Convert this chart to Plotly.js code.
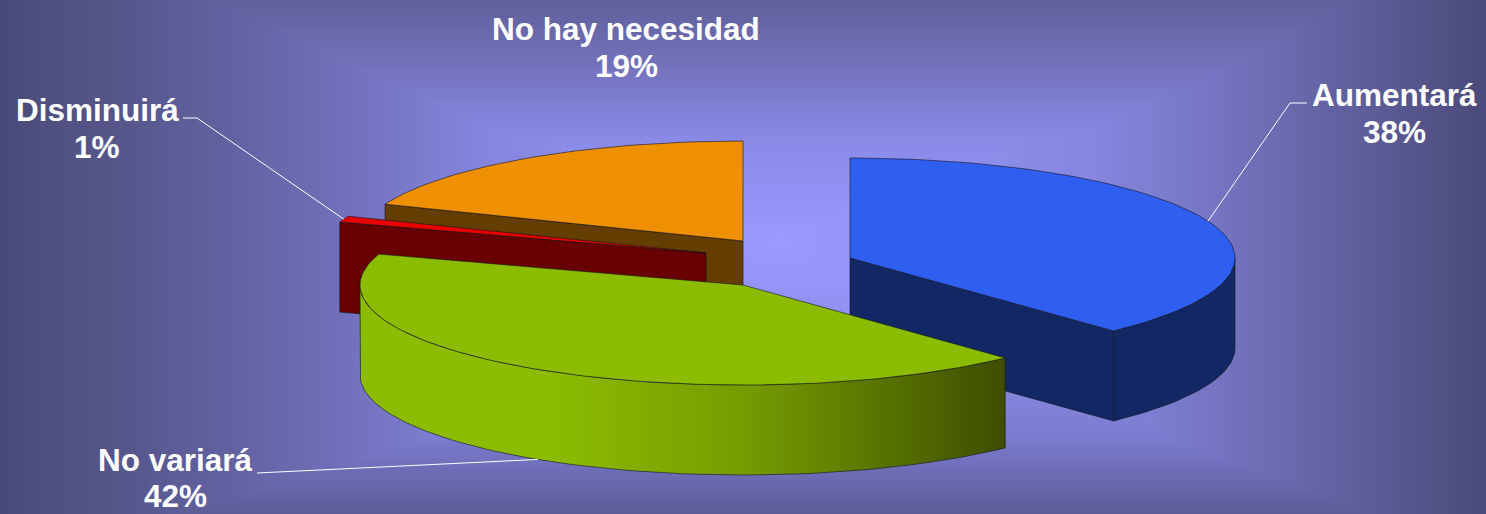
<!DOCTYPE html>
<html>
<head>
<meta charset="utf-8">
<script src="https://cdn.plot.ly/plotly-3.0.1.min.js"></script>
<style>
html,body{margin:0;padding:0;width:1486px;height:514px;overflow:hidden;}
body{
  background-color:#9999ff;
  background-image:
    linear-gradient(to right,#4a4a7a 0px,#545488 100px,#6464a6 250px,#7777c6 390px,#8686e0 490px,#9999ff 780px,#8686e0 1090px,#7777c6 1200px,#6666a8 1310px,#4a4a7a 1486px),
    linear-gradient(to bottom,#60609c 0px,#7070b8 60px,#8a8ae8 140px,#9999ff 240px,#8c8ce8 360px,#7a7ace 440px,#5c5c96 514px);
  background-blend-mode:darken;
}
</style>
</head>
<body>
<div id="chart" style="width:1486px;height:514px;"></div>
<script>
// Data
const categories = ["Aumentará", "No variará", "Disminuirá", "No hay necesidad"];
const shares = [38, 42, 1, 19];

// Styles
const topColors = ["#2e5ff0", "#8cbc00", "#e80000", "#ee9000"];
const faceColors = ["#122864", "#8cbc00", "#680000", "#643e00"];

// Layout of the exploded 3D pie
const RY = 100, DEPTH = 90;
const radiiX = [385, 383, 385, 385];
const centres = [[850, 258], [743, 285], [706, 253], [743, 241]];
const elbows = [[1290, 103, 1307], [257, 473, 257], [197, 118, 183], null];
const nameY = [95, 460, 110, 29];
const pctY = [132, 496, 147, 66];
const labelX = [1394, 175, 97, 626];
const edge = "rgba(20,20,30,0.6)";

const rad = d => d * Math.PI / 180;
function rim(i, t, dz) {
  const c = centres[i];
  return [c[0] + radiiX[i] * Math.sin(rad(t)), c[1] - RY * Math.cos(rad(t)) + (dz || 0)];
}
function arc(i, a, b, dz) {
  const n = Math.max(2, Math.ceil(Math.abs(b - a) / 1.5)), out = [];
  for (let k = 0; k <= n; k++) out.push(rim(i, a + (b - a) * k / n, dz));
  return out;
}
function poly(pts, color, extra) {
  return Object.assign({
    type: "scatter", mode: "lines", fill: "toself", fillcolor: color,
    x: pts.map(p => p[0]), y: pts.map(p => p[1]),
    line: { color: edge, width: 1 }, hoverinfo: "skip", showlegend: false
  }, extra || {});
}

let cum = 0;
const spans = shares.map(s => { const a = cum * 3.6; cum += s; return [a, cum * 3.6]; });

function cutFace(i, t) {
  const c = centres[i], r = rim(i, t);
  return poly([c, r, [r[0], r[1] + DEPTH], [c[0], c[1] + DEPTH], c], faceColors[i]);
}
function topFace(i) {
  const c = centres[i];
  return poly([c].concat(arc(i, spans[i][0], spans[i][1])).concat([c]), topColors[i]);
}
function wall(i, a, b, extra) {
  const pts = arc(i, a, b).concat(arc(i, b, a, DEPTH));
  pts.push(pts[0]);
  return poly(pts, faceColors[i], extra);
}

const traces = [
  // No hay necesidad (back)
  cutFace(3, spans[3][0]), topFace(3),
  // Disminuirá
  cutFace(2, spans[2][0]), topFace(2),
  // Aumentará
  cutFace(0, spans[0][1]), wall(0, 90, spans[0][1]), topFace(0),
  // No variará (front)
  wall(1, spans[1][0], 270, {
    fillgradient: { type: "horizontal",
      colorscale: [[0, "#8cbc00"], [0.3, "#8cbc00"], [0.6, "#749c00"], [1, "#3e4e00"]] }
  }),
  topFace(1)
];

// Leader lines end at the middle of each slice's rim
[0, 1, 2].forEach(i => {
  const mid = (spans[i][0] + spans[i][1]) / 2;
  const dz = Math.cos(rad(mid)) < 0 ? DEPTH : 0;
  const p = rim(i, mid, dz), e = elbows[i];
  traces.push({
    type: "scatter", mode: "lines", x: [e[2], e[0], p[0]], y: [e[1], e[1], p[1]],
    line: { color: "#ffffff", width: 1 }, hoverinfo: "skip", showlegend: false
  });
});

const labelFont = { family: "Liberation Sans, Arial, sans-serif", size: 31.5, color: "#ffffff", weight: 700 };
const annotations = [];
categories.forEach((name, i) => {
  [[name, nameY[i]], [shares[i] + "%", pctY[i]]].forEach(([text, y]) => annotations.push({
    xref: "x", yref: "y", x: labelX[i], y: y, xanchor: "center", yanchor: "middle",
    showarrow: false, align: "center", text: text, font: labelFont, borderpad: 0
  }));
});

Plotly.newPlot("chart", traces, {
  width: 1486, height: 514,
  margin: { l: 0, r: 0, t: 0, b: 0 },
  paper_bgcolor: "rgba(0,0,0,0)", plot_bgcolor: "rgba(0,0,0,0)",
  xaxis: { range: [0, 1486], visible: false, fixedrange: true },
  yaxis: { range: [514, 0], visible: false, fixedrange: true },
  showlegend: false, annotations: annotations
}, { displayModeBar: false, staticPlot: true });
</script>
</body>
</html>
